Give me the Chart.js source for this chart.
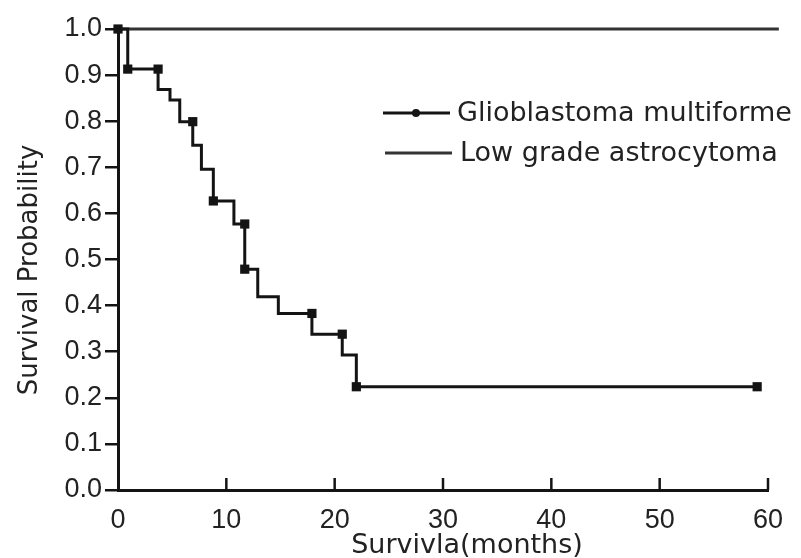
<!DOCTYPE html>
<html>
<head>
<meta charset="utf-8">
<script src="https://cdn.jsdelivr.net/npm/chart.js@4"></script>
<style>
  body { margin: 0; background: #fff; }
  #wrap { width: 801px; height: 558px; position: relative; }
</style>
</head>
<body>
<div id="wrap"><canvas id="kmChart"></canvas></div>
<script>
// Kaplan-Meier curves
const gbmTimes = [0, 0.9, 3.7, 4.8, 5.7, 6.9, 7.7, 8.8, 10.7, 11.7, 12.9, 14.8, 17.9, 20.7, 22.0, 59];
const gbmSurv = [1.0, 0.913, 0.869, 0.846, 0.799, 0.748, 0.696, 0.627, 0.577, 0.479, 0.419, 0.383, 0.338, 0.293, 0.224, 0.224];

// points drawn with a square marker
const gbmMarkTimes = [0, 0.9, 3.7, 6.9, 8.8, 11.7, 11.7, 17.9, 20.7, 22.0, 59];
const gbmMarkSurv = [1.0, 0.913, 0.913, 0.799, 0.627, 0.577, 0.479, 0.383, 0.338, 0.224, 0.224];

const lowTimes = [0, 61];
const lowSurv = [1.0, 1.0];

const xTicks = [0, 10, 20, 30, 40, 50, 60];
const yTicks = [0, 0.1, 0.2, 0.3, 0.4, 0.5, 0.6, 0.7, 0.8, 0.9, 1.0];

const seriesNames = ["Glioblastoma multiforme", "Low grade astrocytoma"];
const xTitle = "Survivla(months)";
const yTitle = "Survival Probability";

const ink = "#141414";
const textFont = "'DejaVu Sans', sans-serif";

function toPoints(xs, ys) {
  return xs.map((x, i) => ({ x: x, y: ys[i] }));
}

// x ticks point up into the plot; legend and axis titles drawn by hand
const extras = {
  id: "extras",
  afterDraw(chart) {
    const c = chart.ctx;
    const xs = chart.scales.x;
    const ys = chart.scales.y;
    const y0 = ys.getPixelForValue(0);
    c.save();
    c.strokeStyle = ink;
    c.lineWidth = 2.5;
    xTicks.forEach((t) => {
      if (t === 0) return;
      const px = xs.getPixelForValue(t);
      c.beginPath();
      c.moveTo(px, y0);
      c.lineTo(px, y0 - 12);
      c.stroke();
    });

    // legend
    c.lineWidth = 3;
    c.beginPath();
    c.moveTo(383, 113);
    c.lineTo(450, 113);
    c.stroke();
    c.fillStyle = ink;
    c.beginPath();
    c.arc(416, 113, 4, 0, Math.PI * 2);
    c.fill();
    c.strokeStyle = "#333";
    c.beginPath();
    c.moveTo(385, 153);
    c.lineTo(452, 153);
    c.stroke();
    c.fillStyle = "#222";
    c.font = "27px " + textFont;
    c.textBaseline = "middle";
    c.textAlign = "left";
    c.fillText(seriesNames[0], 457, 114);
    c.fillText(seriesNames[1], 460, 154);

    // axis titles
    c.textAlign = "center";
    c.fillText(xTitle, 467, 546);
    c.translate(30, 270);
    c.rotate(-Math.PI / 2);
    c.font = "26px " + textFont;
    c.fillText(yTitle, 0, 0);
    c.restore();
  }
};

const ctx = document.getElementById("kmChart");

new Chart(ctx, {
  type: "line",
  data: {
    datasets: [
      {
        label: seriesNames[0],
        data: toPoints(gbmTimes, gbmSurv),
        stepped: true,
        borderColor: ink,
        borderWidth: 3,
        pointRadius: 0,
        fill: false,
        clip: false,
      },
      {
        label: seriesNames[0] + " marks",
        data: toPoints(gbmMarkTimes, gbmMarkSurv),
        showLine: false,
        pointStyle: "rect",
        pointRadius: 6.5,
        pointBackgroundColor: ink,
        pointBorderColor: ink,
        pointBorderWidth: 0,
        clip: false,
      },
      {
        label: seriesNames[1],
        data: toPoints(lowTimes, lowSurv),
        borderColor: "#333",
        borderWidth: 3,
        pointRadius: 0,
        fill: false,
        clip: false,
      },
    ],
  },
  options: {
    responsive: true,
    maintainAspectRatio: false,
    animation: false,
    layout: { padding: { top: 29, right: 33, left: 0, bottom: 0 } },
    plugins: {
      legend: { display: false },
      tooltip: { enabled: false },
    },
    scales: {
      x: {
        type: "linear",
        min: 0,
        max: 60,
        afterBuildTicks: (scale) => {
          scale.ticks = xTicks.map((v) => ({ value: v }));
        },
        afterFit: (scale) => {
          scale.height = 68;
        },
        grid: { display: false },
        border: { display: true, color: ink, width: 3 },
        ticks: {
          color: "#222",
          font: { family: "'Liberation Sans', sans-serif", size: 27 },
          padding: 6,
          maxRotation: 0,
        },
      },
      y: {
        min: 0,
        max: 1,
        afterBuildTicks: (scale) => {
          scale.ticks = yTicks.map((v) => ({ value: v }));
        },
        afterFit: (scale) => {
          scale.width = 118;
        },
        grid: {
          display: true,
          drawOnChartArea: false,
          drawTicks: true,
          tickLength: 13,
          color: ink,
          lineWidth: 2.5,
        },
        border: { display: true, color: ink, width: 3 },
        ticks: {
          color: "#222",
          font: { family: "'Liberation Sans', sans-serif", size: 27 },
          padding: 3,
          callback: (v) => v.toFixed(1),
        },
      },
    },
  },
  plugins: [extras],
});
</script>
</body>
</html>
